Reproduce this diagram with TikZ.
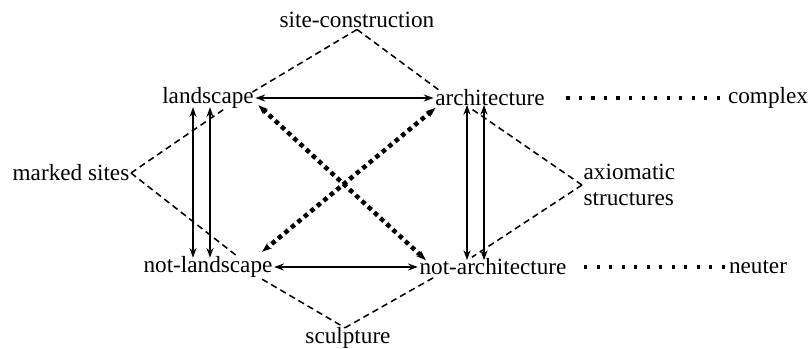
\documentclass[tikz,border=0pt]{standalone}
\usepackage{fontspec}
\setmainfont{Liberation Serif}
\usetikzlibrary{calc,arrows.meta}

\begin{document}
\begin{tikzpicture}[x=0.025cm,y=-0.025cm,>={Stealth[length=7pt,width=5pt]},
  font=\fontsize{16.5}{19}\selectfont,
  term/.style={inner sep=1pt},
  link/.style={dash pattern=on 4.5pt off 3pt,line width=1.1pt},
  axis/.style={<->,line width=1.1pt},
  cross/.style={<->,line width=3.2pt,dash pattern=on 3.2pt off 2.8pt},
  trail/.style={line width=2.2pt,dash pattern=on 2.2pt off 6.7pt}]
  \useasboundingbox (0,0) rectangle (810,349);
  \node[term] (site) at (357,20) {site-construction};
  \node[term] (land) at (208,98) {landscape};
  \node[term] (arch) at (490,98) {architecture};
  \node[term] (complex) at (768,98) {complex};
  \node[term] (marked) at (71,173) {marked sites};
  \node[term,anchor=west,align=left] (axiom) at (582,185) {axiomatic\\structures};
  \node[term] (notland) at (208,267) {not-landscape};
  \node[term] (notarch) at (493,267) {not-architecture};
  \node[term] (neuter) at (758,267) {neuter};
  \node[term] (sculpt) at (348,338) {sculpture};
  % the four complex terms
  \draw[link] (site.south) -- ($(land.east)+(-3,-6)$);
  \draw[link] (site.south) -- ($(arch.west)+(8,-6)$);
  \draw[link] (marked.east) -- ($(land.south east)+(-30,-2)$);
  \draw[link] (marked.east) -- ($(notland.north)+(30,2)$);
  \draw[link] ($(notland.south east)+(-12,0)$) -- ($(sculpt.north)+(-3,2)$);
  \draw[link] ($(sculpt.north)+(-3,2)$) -- ($(notarch.south west)+(17,0)$);
  \draw[link] (axiom.west) -- ($(arch.south)+(-20,0)$);
  \draw[link] (axiom.west) -- ($(notarch.north)+(-21,0)$);
  % contraries and contradictions
  \draw[axis] (land.east) -- (arch.west);
  \draw[axis] (notland.east) -- (notarch.west);
  \draw[axis] ($(land.south)+(-15,-3)$) -- ($(notland.north)+(-15,3)$);
  \draw[axis] ($(land.south)+(2,-3)$) -- ($(notland.north)+(2,3)$);
  \draw[axis] ($(arch.south)+(-23,-3)$) -- ($(notarch.north)+(-26,3)$);
  \draw[axis] ($(arch.south)+(-6,-3)$) -- ($(notarch.north)+(-9,3)$);
  \draw[cross] ($(land.south east)+(3,-5)$) -- ($(notarch.north west)+(8,3)$);
  \draw[cross] ($(arch.south west)+(2,0)$) -- ($(notland.north east)+(-12,-3)$);
  \draw[trail] ($(arch.east)+(20,0)$) -- (complex.west);
  \draw[trail] ($(notarch.east)+(16,0)$) -- (neuter.west);
\end{tikzpicture}
\end{document}
